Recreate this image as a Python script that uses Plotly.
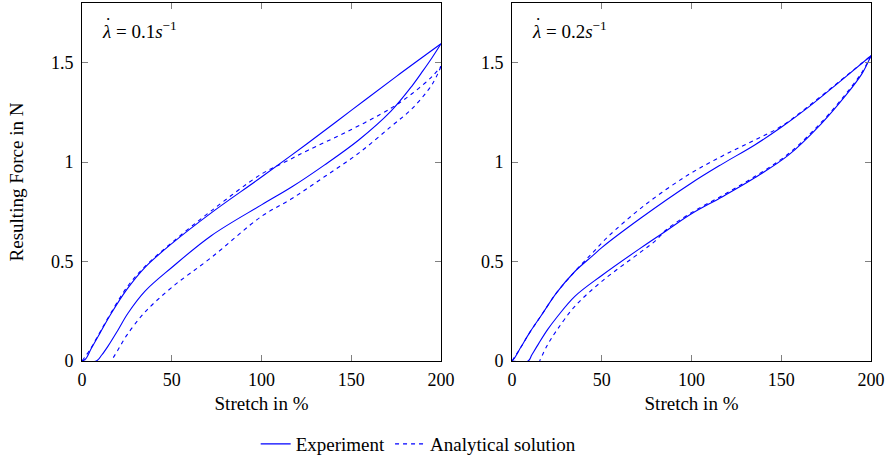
import plotly.graph_objects as go

# ---- Stretch rate 0.1 1/s ----
exp01_load_x = [0, 2, 5, 10, 16, 25, 35, 50, 72, 100, 125, 150, 175, 200]
exp01_load_y = [0, 0.01, 0.06, 0.14, 0.235, 0.36, 0.47, 0.59, 0.745, 0.925, 1.09, 1.26, 1.43, 1.595]
exp01_unload_x = [200, 195, 190, 184, 172, 154, 135, 117, 100, 72, 50, 35, 25.6, 20, 14.5, 11, 8, 0]
exp01_unload_y = [1.595, 1.525, 1.46, 1.385, 1.255, 1.11, 0.985, 0.876, 0.785, 0.63, 0.47, 0.35, 0.24, 0.155, 0.075, 0.03, 0, 0]

ana01_load_x = [0, 5, 10, 16, 25, 35, 50, 72, 100, 113, 126, 147, 172, 184, 195, 200]
ana01_load_y = [0, 0.065, 0.145, 0.24, 0.37, 0.475, 0.595, 0.755, 0.94, 1.0, 1.06, 1.15, 1.27, 1.345, 1.43, 1.482]
ana01_unload_x = [200, 195, 184, 172, 154, 135, 117, 100, 72, 50, 35, 25, 20, 16.3]
ana01_unload_y = [1.482, 1.39, 1.27, 1.178, 1.044, 0.926, 0.817, 0.727, 0.52, 0.37, 0.245, 0.13, 0.055, 0]

# ---- Stretch rate 0.2 1/s ----
exp02_load_x = [0, 1, 5, 10, 16, 25, 35, 45, 50, 72, 100, 117, 135, 150, 165, 182, 200]
exp02_load_y = [0, 0.01, 0.07, 0.145, 0.225, 0.345, 0.45, 0.53, 0.57, 0.72, 0.895, 0.99, 1.085, 1.175, 1.275, 1.40, 1.535]
exp02_unload_x = [200, 195, 185, 172, 154, 135, 117, 100, 86, 72, 50, 35, 25, 20, 15, 11, 9, 0]
exp02_unload_y = [1.535, 1.445, 1.325, 1.19, 1.035, 0.92, 0.825, 0.74, 0.655, 0.57, 0.43, 0.325, 0.22, 0.16, 0.09, 0.03, 0, 0]

ana02_load_x = [0, 5, 10, 16, 25, 35, 45, 53.5, 74, 98, 117, 135, 150, 165, 182, 200]
ana02_load_y = [0, 0.07, 0.145, 0.225, 0.345, 0.45, 0.545, 0.625, 0.784, 0.935, 1.03, 1.11, 1.18, 1.28, 1.403, 1.535]
ana02_unload_x = [200, 195, 185, 172, 154, 135, 117, 100, 86, 80, 72, 50, 35, 25, 20, 15.4]
ana02_unload_y = [1.535, 1.452, 1.332, 1.197, 1.042, 0.926, 0.831, 0.746, 0.66, 0.605, 0.55, 0.40, 0.275, 0.155, 0.085, 0]

rate_labels = ["0.1", "0.2"]
x_ticks = [0, 50, 100, 150, 200]
y_ticks = [0, 0.5, 1, 1.5]
y_tick_text = ["0", "0.5", "1", "1.5"]

BLUE = "#0000ff"
FONT = "Liberation Serif"
NUM_SIZE = 18
TXT_SIZE = 19

panels = [
    (exp01_load_x, exp01_load_y, exp01_unload_x, exp01_unload_y,
     ana01_load_x, ana01_load_y, ana01_unload_x, ana01_unload_y),
    (exp02_load_x, exp02_load_y, exp02_unload_x, exp02_unload_y,
     ana02_load_x, ana02_load_y, ana02_unload_x, ana02_unload_y),
]

fig = go.Figure()
for i, (elx, ely, eux, euy, alx, aly, aux, auy) in enumerate(panels):
    xa = "x" if i == 0 else "x2"
    ya = "y" if i == 0 else "y2"
    for j, (xs, ys) in enumerate([(elx, ely), (eux, euy)]):
        fig.add_trace(go.Scatter(
            x=xs, y=ys, xaxis=xa, yaxis=ya, mode="lines",
            line=dict(color=BLUE, width=1.1, shape="spline", smoothing=1.0),
            name="Experiment", legendgroup="exp",
            showlegend=(i == 0 and j == 0)))
    for j, (xs, ys) in enumerate([(alx, aly), (aux, auy)]):
        fig.add_trace(go.Scatter(
            x=xs, y=ys, xaxis=xa, yaxis=ya, mode="lines",
            line=dict(color=BLUE, width=1.1, dash="4px,4px", shape="spline", smoothing=1.0),
            name="Analytical solution", legendgroup="ana",
            showlegend=(i == 0 and j == 0)))

W, H = 886, 463
axis_common = dict(
    showline=True, linecolor="black", linewidth=1, mirror="allticks",
    ticks="inside", ticklen=6, tickcolor="#808080", tickwidth=1,
    showgrid=False, zeroline=False, automargin=False,
    tickfont=dict(family=FONT, size=NUM_SIZE, color="black"),
)
x_common = dict(axis_common, range=[0, 200], tickvals=x_ticks,
                ticktext=[str(t) for t in x_ticks], ticklabelstandoff=2,
                title=dict(text="Stretch in %", standoff=8,
                           font=dict(family=FONT, size=TXT_SIZE, color="black")))
y_common = dict(axis_common, range=[0, 1.8], tickvals=y_ticks,
                ticktext=y_tick_text, ticklabelstandoff=4)

fig.update_layout(
    width=W, height=H,
    margin=dict(l=0, r=0, t=0, b=0),
    paper_bgcolor="white", plot_bgcolor="white",
    font=dict(family=FONT, size=TXT_SIZE, color="black"),
    xaxis=dict(x_common, domain=[82 / W, 441 / W], anchor="y"),
    xaxis2=dict(x_common, domain=[512 / W, 871 / W], anchor="y2"),
    yaxis=dict(y_common, domain=[1 - 361 / H, 1 - 3 / H], anchor="x",
               title=dict(text="Resulting Force in N", standoff=22,
                          font=dict(family=FONT, size=TXT_SIZE, color="black"))),
    yaxis2=dict(y_common, domain=[1 - 361 / H, 1 - 3 / H], anchor="x2"),
    legend=dict(orientation="h", x=0.472, xanchor="center", y=0.0, yanchor="bottom",
                font=dict(family=FONT, size=TXT_SIZE, color="black"),
                bgcolor="rgba(0,0,0,0)", itemwidth=30, tracegroupgap=0),
    showlegend=True,
)

# Strain-rate labels: italic lambda with a rate dot set above it
for i, rate in enumerate(rate_labels):
    suffix = "" if i == 0 else "2"
    fig.add_annotation(
        text=f"<i>λ</i> = {rate}<i>s</i><sup>−1</sup>",
        xref=f"x{suffix} domain", yref=f"y{suffix} domain",
        x=0.05, y=0.925, xanchor="left", yanchor="middle", showarrow=False,
        font=dict(family=FONT, size=TXT_SIZE, color="black"))
    fig.add_annotation(
        text="˙",
        xref=f"x{suffix} domain", yref=f"y{suffix} domain",
        x=0.072, y=0.925, xanchor="center", yanchor="middle", yshift=5,
        showarrow=False,
        font=dict(family=FONT, size=TXT_SIZE, color="black"))

fig.write_html("out.html")
